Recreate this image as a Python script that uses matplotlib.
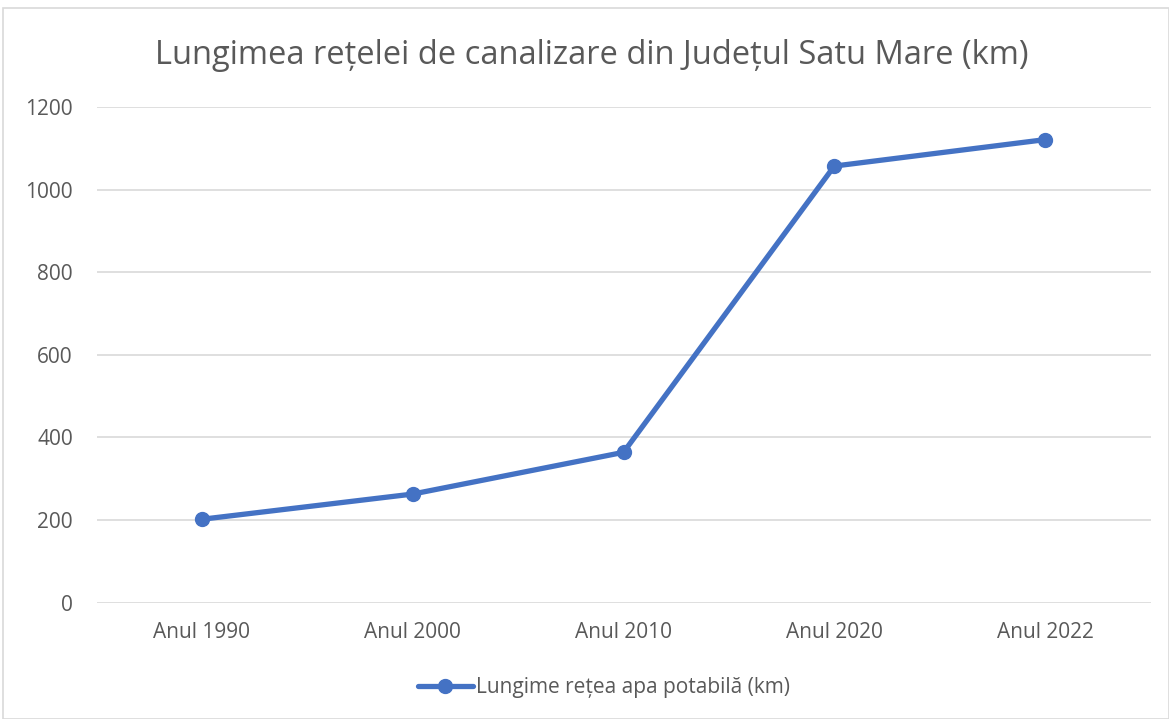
import matplotlib.pyplot as plt
from matplotlib.patches import Rectangle

# Data
years = ['Anul 1990', 'Anul 2000', 'Anul 2010', 'Anul 2020', 'Anul 2022']
lengths = [202, 263, 364, 1057, 1121]
y_ticks = [0, 200, 400, 600, 800, 1000, 1200]

plt.rcParams['font.family'] = ['Open Sans', 'DejaVu Sans']

text_color = '#595959'
line_color = '#4472C4'

fig = plt.figure(figsize=(11.69, 7.19), dpi=100)
ax = fig.add_axes([96.5 / 1169, 1 - 602.7 / 719, (1150.5 - 96.5) / 1169, (602.7 - 107) / 719])

x = list(range(len(years)))
ax.plot(x, lengths, color=line_color, linewidth=3.8, marker='o', markersize=10,
        solid_capstyle='round', label='Lungime rețea apa potabilă (km)')

ax.set_xlim(-0.5, len(years) - 0.5)
ax.set_ylim(0, 1200)
ax.set_yticks(y_ticks)
ax.set_xticks(x)
ax.set_xticklabels(years)
ax.tick_params(axis='both', length=0, labelsize=15, colors=text_color)
ax.tick_params(axis='y', pad=17)
ax.tick_params(axis='x', pad=14)
ax.grid(axis='y', color='#D9D9D9', linewidth=1.2)
ax.set_axisbelow(True)
for s in ax.spines.values():
    s.set_visible(False)

fig.text(592 / 1169, 1 - 56 / 719, 'Lungimea rețelei de canalizare din Județul Satu Mare (km)',
         ha='center', va='center', fontsize=23.5, color=text_color)

ax.legend(loc='center', bbox_to_anchor=(0.4815, (602.7 - 688) / (602.7 - 107)),
          frameon=False, fontsize=15, labelcolor=text_color, handlelength=2.6,
          handletextpad=0.15)

# light border around the chart area, like the spreadsheet frame
fig.patches.append(Rectangle((3 / 1169, 0), 1 - 3 / 1169, 1 - 8 / 719,
                             transform=fig.transFigure, fill=False,
                             edgecolor='#D9D9D9', linewidth=1.2))

fig.savefig('out.png', dpi=100)
